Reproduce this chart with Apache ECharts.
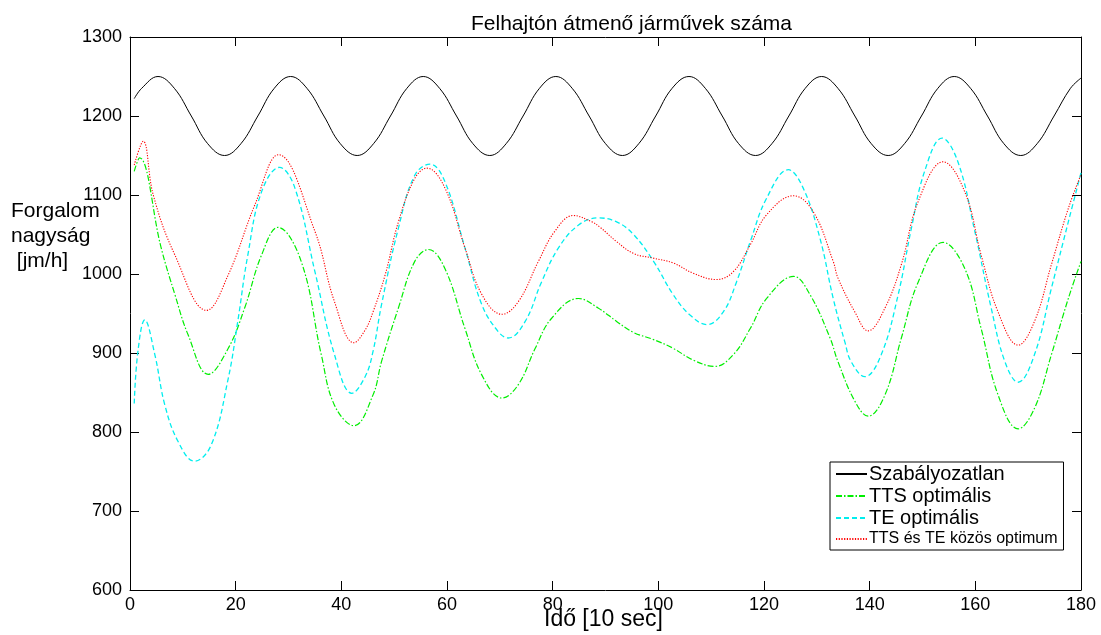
<!DOCTYPE html>
<html>
<head>
<meta charset="utf-8">
<script src="https://cdn.jsdelivr.net/npm/echarts@6/dist/echarts.min.js"></script>
<style>
  html, body { margin: 0; padding: 0; background: #fff; }
  #chart { width: 1101px; height: 635px; }
</style>
</head>
<body>
<div id="chart"></div>
<script>
// Axis ticks
const xTicks = [0, 20, 40, 60, 80, 100, 120, 140, 160, 180];
const yTicks = [600, 700, 800, 900, 1000, 1100, 1200, 1300];

// Series names
const seriesNames = ['Szabályozatlan', 'TTS optimális', 'TE optimális', 'TTS és TE közös optimum'];

// Unregulated flow [time, jm/h]
const unregulated = [
  [0.8, 1222], [2.2, 1235], [5.3, 1250], [8.4, 1235], [11.6, 1200], [14.7, 1165], [17.9, 1150],
  [21.0, 1165], [24.2, 1200], [27.3, 1235], [30.4, 1250], [33.5, 1235], [36.7, 1200], [39.8, 1165],
  [43.0, 1150], [46.1, 1165], [49.3, 1200], [52.4, 1235], [55.5, 1250], [58.6, 1235], [61.8, 1200],
  [64.9, 1165], [68.1, 1150], [71.2, 1165], [74.4, 1200], [77.5, 1235], [80.6, 1250], [83.7, 1235],
  [86.9, 1200], [90.0, 1165], [93.2, 1150], [96.3, 1165], [99.5, 1200], [102.6, 1235], [105.8, 1250],
  [108.9, 1235], [112.1, 1200], [115.2, 1165], [118.4, 1150], [121.5, 1165], [124.7, 1200], [127.8, 1235],
  [130.9, 1250], [134.0, 1235], [137.2, 1200], [140.3, 1165], [143.5, 1150], [146.6, 1165], [149.8, 1200],
  [152.9, 1235], [156.0, 1250], [159.1, 1235], [162.3, 1200], [165.4, 1165], [168.6, 1150], [171.7, 1165],
  [174.9, 1200], [178.0, 1235], [180.0, 1248]
];

// TTS-optimal control
const ttsOptimal = [
  [0.8, 1130], [1.8, 1147], [5.9, 1033], [8.5, 974], [11.0, 923], [14.8, 873], [18.6, 906],
  [21.7, 957], [24.9, 1024], [28.0, 1059], [32.4, 1016], [36.2, 898], [38.7, 834], [42.4, 808],
  [46.0, 847], [47.6, 889], [50.8, 957], [53.9, 1016], [56.5, 1031], [59.6, 1007], [63.4, 931],
  [66.6, 872], [70.4, 843], [73.5, 860], [76.7, 906], [79.8, 944], [84.9, 969], [88.6, 957],
  [92.1, 940], [95.3, 926], [99.1, 917], [102.8, 906], [106.6, 891], [110.7, 883], [114.2, 898],
  [117.4, 931], [120.5, 969], [125.6, 997], [128.7, 974], [132.5, 919], [134.0, 889], [137.2, 839],
  [139.7, 820], [142.9, 847], [146.0, 919], [149.2, 990], [153.9, 1040], [158.0, 1007], [161.1, 931],
  [164.3, 847], [168.1, 804], [171.2, 830], [174.4, 898], [177.6, 969], [180.0, 1016]
];

// TE-optimal control
const teOptimal = [
  [0.8, 836], [1.5, 902], [2.8, 942], [4.7, 898], [6.6, 834], [9.1, 788], [12.2, 763],
  [15.4, 784], [18.6, 868], [20.4, 940], [22.3, 1024], [24.9, 1104], [28.3, 1135], [31.2, 1109],
  [35.0, 1003], [38.7, 898], [42.0, 849], [44.5, 870], [46.0, 902], [47.6, 961], [50.8, 1058],
  [53.9, 1125], [56.8, 1139], [59.6, 1117], [63.4, 1033], [66.6, 961], [69.7, 927], [71.6, 919],
  [74.8, 940], [77.9, 990], [81.1, 1033], [84.9, 1062], [88.6, 1071], [92.1, 1066], [95.3, 1050],
  [99.1, 1016], [102.8, 974], [106.0, 948], [109.2, 936], [112.3, 952], [114.8, 990], [117.4, 1041],
  [120.5, 1096], [124.6, 1132], [127.4, 1109], [130.6, 1045], [133.1, 969], [135.3, 914], [136.5, 889],
  [139.1, 870], [142.2, 898], [145.4, 974], [147.9, 1058], [150.4, 1130], [153.7, 1172], [156.7, 1142],
  [159.9, 1054], [163.0, 957], [165.6, 889], [168.1, 863], [171.2, 898], [174.4, 982], [177.6, 1066],
  [180.0, 1128]
];

// Joint TTS and TE optimum
const jointOptimum = [
  [0.8, 1138], [2.5, 1168], [4.4, 1100], [8.5, 1024], [14.5, 954], [18.6, 999], [23.6, 1087],
  [28.1, 1151], [35.0, 1054], [38.7, 965], [42.4, 913], [44.5, 929], [46.0, 952], [48.3, 999],
  [50.8, 1066], [53.9, 1121], [56.2, 1134], [59.6, 1109], [63.4, 1033], [66.6, 974], [70.4, 949],
  [73.5, 965], [77.3, 1016], [80.4, 1054], [83.9, 1074], [87.4, 1066], [89.0, 1059], [92.1, 1041],
  [95.3, 1026], [99.1, 1020], [102.8, 1014], [106.6, 1001], [111.0, 993], [114.2, 1003], [117.4, 1037],
  [120.5, 1075], [125.6, 1099], [129.3, 1079], [133.1, 1016], [134.0, 995], [137.2, 952], [139.7, 928],
  [142.9, 957], [146.0, 1012], [149.2, 1092], [153.9, 1142], [158.0, 1104], [161.1, 1024], [164.3, 952],
  [168.1, 910], [171.2, 940], [174.4, 1012], [177.6, 1083], [180.0, 1126]
];

const FONT = '"Liberation Sans", Arial, sans-serif';
const chart = echarts.init(document.getElementById('chart'), null, { renderer: 'canvas' });

const xStep = xTicks[1] - xTicks[0];
const yStep = yTicks[1] - yTicks[0];

function xAxisDef(pos, labels) {
  return {
    type: 'value', position: pos,
    min: xTicks[0], max: xTicks[xTicks.length - 1], interval: xStep,
    axisLine: { show: true, onZero: false, lineStyle: { color: '#000', width: 1 } },
    axisTick: { show: true, inside: true, length: 9, lineStyle: { color: '#000' } },
    axisLabel: { show: labels, color: '#000', fontSize: 18, fontFamily: FONT, margin: 6,
                 formatter: function (v) { return String(v); } },
    splitLine: { show: false }
  };
}
function yAxisDef(pos, labels) {
  return {
    type: 'value', position: pos,
    min: yTicks[0], max: yTicks[yTicks.length - 1], interval: yStep,
    axisLine: { show: true, onZero: false, lineStyle: { color: '#000', width: 1 } },
    axisTick: { show: true, inside: true, length: 9, lineStyle: { color: '#000' } },
    axisLabel: { show: labels, color: '#000', fontSize: 18, fontFamily: FONT, margin: 8,
                 formatter: function (v) { return String(v); } },
    splitLine: { show: false }
  };
}

function lineSeries(name, data, color, dash, width) {
  return {
    name: name, type: 'line', data: data,
    xAxisIndex: 0, yAxisIndex: 0,
    symbol: 'none', showSymbol: false, smooth: 0.4,
    lineStyle: { color: color, width: width, type: dash },
    itemStyle: { color: color },
    emphasis: { disabled: true },
    animation: false
  };
}

chart.setOption({
  backgroundColor: '#fff',
  animation: false,
  title: {
    text: 'Felhajtón átmenő járművek száma',
    left: 466, top: 9,
    textStyle: { fontSize: 21, fontWeight: 'normal', color: '#000', fontFamily: FONT }
  },
  grid: { left: 130, right: 20, top: 37, bottom: 45, containLabel: false },
  xAxis: [xAxisDef('bottom', true), xAxisDef('top', false)],
  yAxis: [yAxisDef('left', true), yAxisDef('right', false)],
  legend: {
    orient: 'vertical',
    left: 830, top: 462,
    width: 232,
    padding: [2, 6, 2, 5],
    itemGap: 2,
    itemWidth: 31, itemHeight: 14,
    itemStyle: { opacity: 0 },
    backgroundColor: '#fff',
    borderColor: '#000', borderWidth: 1,
    selectedMode: false,
    data: seriesNames,
    textStyle: {
      color: '#000', fontSize: 20, lineHeight: 20, fontFamily: FONT, padding: [0, 0, 0, -3],
      rich: { s: { fontSize: 16, lineHeight: 18, fontFamily: FONT, color: '#000' } }
    },
    formatter: function (name) {
      return name === seriesNames[3] ? '{s|' + name + '}' : name;
    }
  },
  graphic: [
    {
      type: 'text', left: 11, top: 199,
      style: {
        text: 'Forgalom\nnagyság\n [jm/h]',
        font: '21px ' + FONT, fill: '#000', lineHeight: 25
      }
    },
    {
      type: 'text', left: 544, top: 608,
      style: { text: 'Idő [10 sec]', font: '23px ' + FONT, fill: '#000' }
    }
  ],
  series: [
    lineSeries(seriesNames[0], unregulated, '#000000', 'solid', 1),
    lineSeries(seriesNames[1], ttsOptimal, '#00ee00', [6, 2, 1.5, 2], 1.2),
    lineSeries(seriesNames[2], teOptimal, '#00eeee', [5, 3], 1.3),
    lineSeries(seriesNames[3], jointOptimum, '#ff0000', [1.2, 1.5], 1.1)
  ]
});
</script>
</body>
</html>
